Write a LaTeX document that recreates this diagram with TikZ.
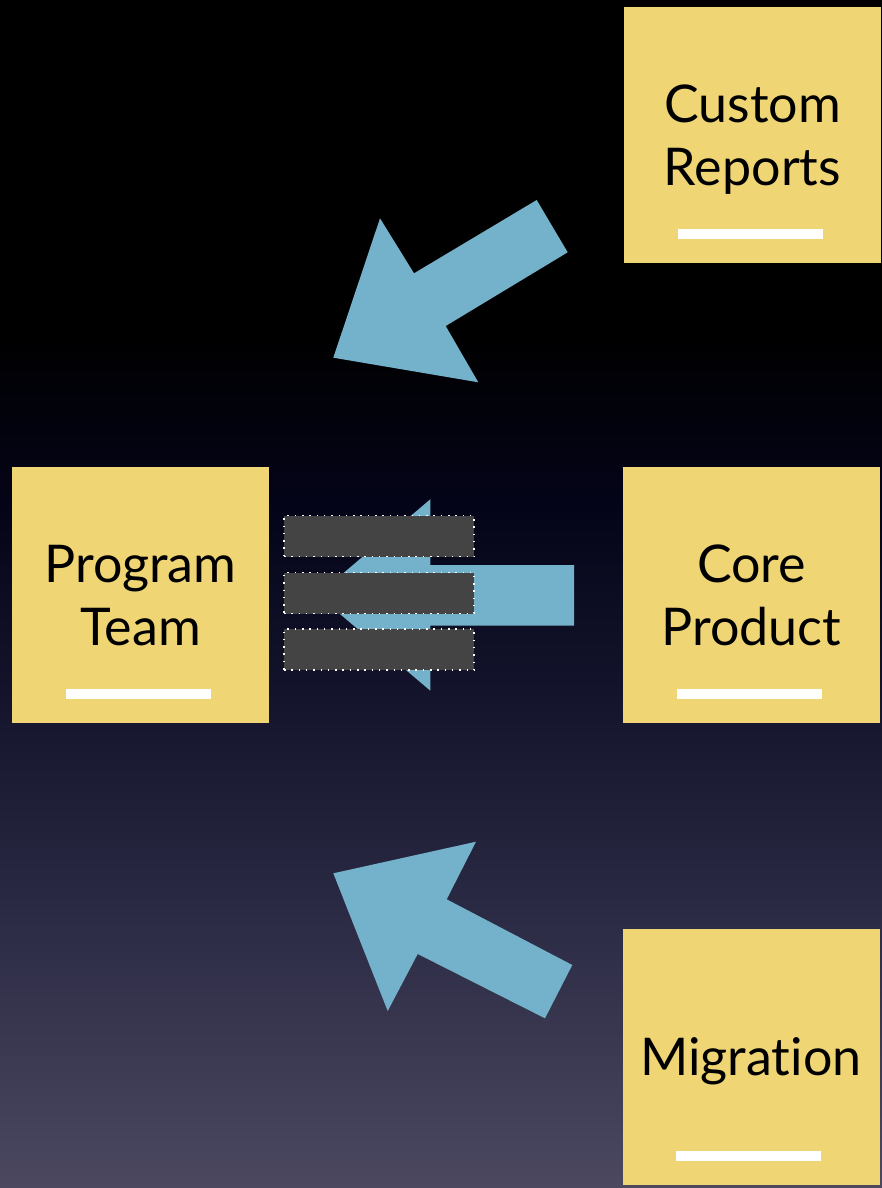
\documentclass[tikz,border=0pt]{standalone}
\usepackage{fontspec}
\setmainfont{Lato}[Ligatures={NoCommon}]
\usetikzlibrary{positioning}

\definecolor{notefill}{HTML}{EFD574}
\definecolor{arrowblue}{HTML}{74B1CA}
\definecolor{slotgray}{HTML}{444444}
\definecolor{bgA}{HTML}{2A2943}
\definecolor{bgB}{HTML}{13132B}
\definecolor{bgC}{HTML}{040418}
\definecolor{bglow}{HTML}{4B4860}

\pgfdeclareverticalshading{nightsky}{100bp}{color(0bp)=(bglow); color(25bp)=(bglow); color(37bp)=(bgA); color(46bp)=(bgB); color(54bp)=(bgC); color(61bp)=(black); color(100bp)=(black)}

\tikzset{
  note/.style={fill=notefill, minimum width=257pt, minimum height=256pt, inner sep=0pt,
    align=center, text depth=0pt, font=\fontsize{52}{63}\selectfont},
  notebar/.style={fill=white},
  bigarrow/.style={fill=arrowblue},
  slot/.style={fill=slotgray, draw=white, line width=1.3pt, dash pattern=on 1.5pt off 5.8pt,
    minimum width=190pt, minimum height=41pt, inner sep=0pt},
}

\begin{document}
\begin{tikzpicture}[x=1pt,y=-1pt]
                    \shade[shading=nightsky] (0,0) rectangle (882,1188);
                    \useasboundingbox (0,0) rectangle (882,1188);
                    % sticky notes
                    \node[note] (reports) at (752.5,135) {Custom\\Reports};
                    \node[note] (team) at (140.5,595) {Program\\Team};
                    \node[note] (core) at (751.5,595) {Core\\Product};
                    \node[note] (migration) at (751,1056.5) {Migration};
                    \foreach \n in {reports,team,core,migration}
                        \fill[notebar] ([xshift=-75pt,yshift=24pt]\n.south) rectangle ([xshift=70pt,yshift=34pt]\n.south);
                    % arrows
                    \fill[bigarrow] (536.7,200) -- (567.7,252.3) -- (445.7,326) -- (478.3,382.3)
                        -- (333.3,357.7) -- (380,218.3) -- (414,273.3) -- cycle;
                    \fill[bigarrow] (574,565) -- (574,625.7) -- (430.3,625.7) -- (430.3,690.7)
                        -- (317.6,595) -- (430.3,499.3) -- (430.3,565) -- cycle;
                    \fill[bigarrow] (572.3,965) -- (545,1018.3) -- (417.7,954) -- (387.7,1011)
                        -- (333.3,873.3) -- (476,841.7) -- (446.7,899.3) -- cycle;
                    % slots
                    \foreach \i/\y in {1/536.3,2/593,3/649.6}
                        \node[slot] (slot\i) at (379,\y) {};
                \end{tikzpicture}
\end{document}
